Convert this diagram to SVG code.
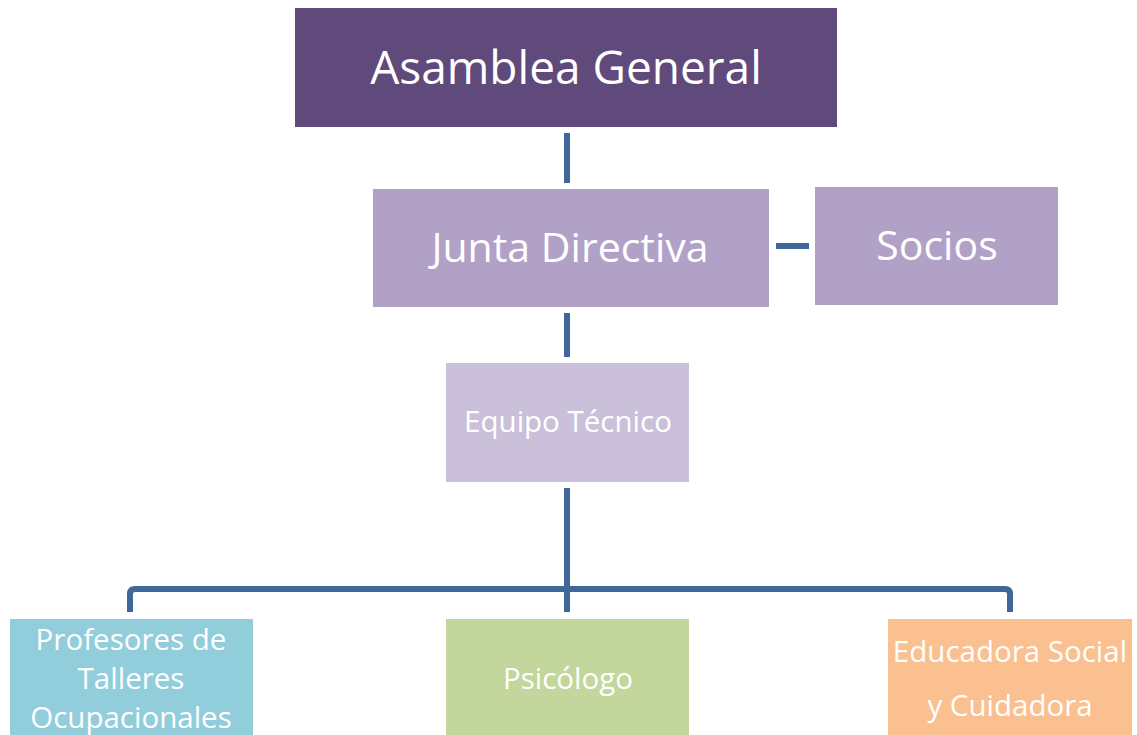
<svg xmlns="http://www.w3.org/2000/svg" width="1137" height="735" viewBox="0 0 1137 735">
<style>
text{font-family:"Open Sans","Noto Sans","Liberation Sans",sans-serif;fill:#ffffff;text-anchor:middle}
.s{font-size:29.5px}
.c{fill:none;stroke:#3F6797;stroke-width:6}
</style>
<rect width="1137" height="735" fill="#ffffff"/>
<g id="connectors">
<line class="c" x1="567" y1="133" x2="567" y2="183"/>
<line class="c" x1="776" y1="246" x2="809" y2="246"/>
<line class="c" x1="567" y1="313" x2="567" y2="357"/>
<line class="c" x1="567" y1="488" x2="567" y2="612"/>
<path class="c" d="M130,612 V594 Q130,589 135,589 H1005 Q1010,589 1010,594 V612"/>
</g>
<g id="asamblea"><rect x="295" y="8" width="542" height="119" fill="#604A7B"/><text x="566" y="84" font-size="46">Asamblea General</text></g>
<g id="junta"><rect x="373" y="189" width="396" height="118" fill="#B2A1C7"/><text x="570" y="262" font-size="41">Junta Directiva</text></g>
<g id="socios"><rect x="815" y="187" width="243" height="118" fill="#B2A1C7"/><text x="937" y="260" font-size="41">Socios</text></g>
<g id="equipo"><rect x="446" y="363" width="243" height="119" fill="#CBC0DA"/><text class="s" x="568" y="432">Equipo Técnico</text></g>
<g id="profesores"><rect x="10" y="619" width="243" height="120" fill="#92CDDC"/><text class="s" x="131" y="650">Profesores de</text><text class="s" x="131" y="689">Talleres</text><text class="s" x="131" y="728">Ocupacionales</text></g>
<g id="psicologo"><rect x="446" y="619" width="243" height="120" fill="#C3D69B"/><text class="s" x="568" y="689">Psicólogo</text></g>
<g id="educadora"><rect x="888" y="619" width="244" height="120" fill="#FAC090"/><text class="s" x="1010" y="662">Educadora Social</text><text class="s" x="1010" y="716">y Cuidadora</text></g>
</svg>
